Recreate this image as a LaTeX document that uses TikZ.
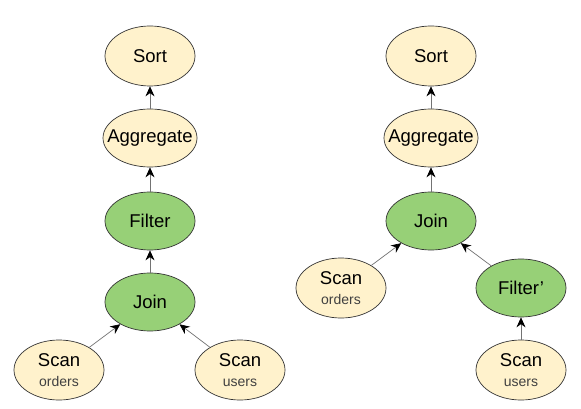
\documentclass[tikz,border=0pt]{standalone}
\usepackage{fontspec}
\setmainfont{Liberation Sans}
\usetikzlibrary{shapes.geometric,arrows.meta}
\definecolor{opbeige}{HTML}{FFF2CC}
\definecolor{opgreen}{HTML}{97D077}

\begin{document}
\begin{tikzpicture}[x=1pt, y=-1pt,
  every node/.style={font=\fontsize{18.5}{21}\selectfont},
  op/.style={ellipse, draw=black!80, line width=0.7pt, inner sep=0pt,
    minimum width=90pt, minimum height=60pt, fill=opbeige, align=center},
  pushed/.style={op, fill=opgreen},
  link/.style={draw=black!55, line width=0.7pt, -{Stealth[length=10pt, width=9pt, color=black]}}]
  \useasboundingbox[fill=white] (0,0) rectangle (581,409);
  \newcommand{\tbl}[1]{\\[-1pt]{\fontsize{14}{14}\selectfont\color{black!75}#1}}
  % original plan
  \node[op] (sort) at (150,56) {Sort};
  \node[op, minimum width=94pt, minimum height=58pt] (agg) at (150,138) {\makebox[0pt]{Aggregate}};
  \node[pushed, minimum height=58pt] (filter) at (150,221) {Filter};
  \node[pushed, minimum height=58pt] (join) at (150,302) {Join};
  \node[op] (orders) at (59,370) {Scan\tbl{orders}};
  \node[op] (users) at (240,370) {Scan\tbl{users}};
  \draw[link] (agg) -- (sort);
  \draw[link] (filter) -- (agg);
  \draw[link] (join) -- (filter);
  \draw[link] (orders) -- (join);
  \draw[link] (users) -- (join);
  % after pushing the filter down
  \node[op] (sort2) at (431,56) {Sort};
  \node[op, minimum width=94pt, minimum height=58pt] (agg2) at (431,138) {\makebox[0pt]{Aggregate}};
  \node[pushed, minimum height=58pt] (join2) at (431,221) {Join};
  \node[op] (orders2) at (341,288) {Scan\tbl{orders}};
  \node[pushed, minimum height=58pt] (filter2) at (521,288) {Filter’};
  \node[op] (users2) at (521,370) {Scan\tbl{users}};
  \draw[link] (agg2) -- (sort2);
  \draw[link] (join2) -- (agg2);
  \draw[link] (orders2) -- (join2);
  \draw[link] (filter2) -- (join2);
  \draw[link] (users2) -- (filter2);
\end{tikzpicture}
\end{document}
